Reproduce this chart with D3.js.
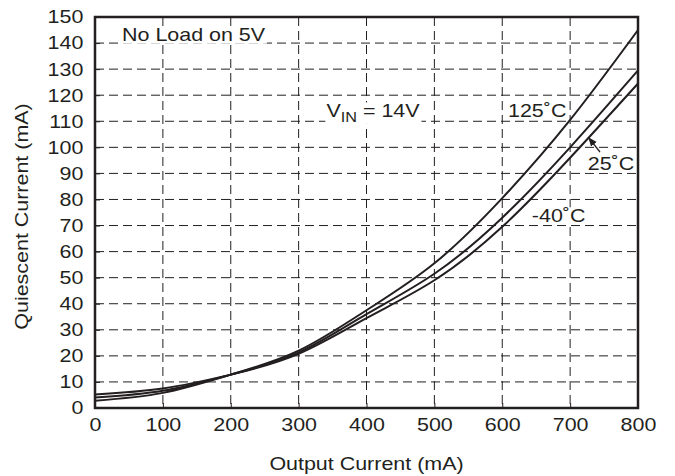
<!DOCTYPE html>
<html>
<head>
<meta charset="utf-8">
<script src="https://cdn.jsdelivr.net/npm/d3@7"></script>
<style>
  body { margin: 0; background: #fff; }
  text { font-family: "Liberation Sans", Arial, sans-serif; fill: #231f20; }
</style>
</head>
<body>
<div id="chart"></div>
<script>
const outputCurrent = [0, 100, 200, 300, 400, 500, 600, 700, 800]
const q125 = [2.8, 5.8, 12.8, 22, 37.5, 55.5, 80.5, 110.5, 145]
const q25 = [4, 6.6, 12.8, 21.3, 36, 51.5, 73, 100, 129.5]
const qMinus40 = [5.2, 7.5, 12.8, 20.8, 34.5, 49, 69.5, 96, 124.5]
const xTicks = [0, 100, 200, 300, 400, 500, 600, 700, 800]
const yTicks = d3.range(0, 151, 10)

const margin = {top: 17, right: 37, bottom: 68, left: 95}
const width = 675 - margin.left - margin.right
const height = 476 - margin.top - margin.bottom
const stretch = 1.16

const x = d3.scaleLinear().domain([0, 800]).range([0, width])
const y = d3.scaleLinear().domain([0, 150]).range([height, 0])

const svg = d3.select('#chart').append('svg')
  .attr('width', 675)
  .attr('height', 476)
const g = svg.append('g')
  .attr('transform', `translate(${margin.left}, ${margin.top})`)

// dashed grid
g.append('g').selectAll('line').data(xTicks.slice(1, -1))
  .enter().append('line')
    .attr('x1', (d) => x(d)).attr('x2', (d) => x(d))
    .attr('y1', 0).attr('y2', height)
    .attr('stroke', '#231f20').attr('stroke-width', 1)
    .attr('stroke-dasharray', '9,5')
g.append('g').selectAll('line').data(yTicks.slice(1, -1))
  .enter().append('line')
    .attr('y1', (d) => y(d)).attr('y2', (d) => y(d))
    .attr('x1', 0).attr('x2', width)
    .attr('stroke', '#231f20').attr('stroke-width', 1)
    .attr('stroke-dasharray', '9,5')

// axes
const xAxis = g.append('g')
  .attr('transform', `translate(0, ${height})`)
  .call(d3.axisBottom(x).tickValues(xTicks).tickSize(-5).tickPadding(10).tickFormat(d3.format('d')))
const yAxis = g.append('g')
  .call(d3.axisLeft(y).tickValues(yTicks).tickSize(-5).tickPadding(10).tickFormat(d3.format('d')))
;[xAxis, yAxis].forEach((a) => {
  a.select('.domain').remove()
  a.selectAll('.tick line').attr('stroke', '#231f20')
  a.selectAll('.tick text')
    .style('font-size', '18.5px')
    .attr('fill', '#231f20')
    .attr('transform', `scale(${stretch}, 1)`)
})

// annotations, white box behind each like the datasheet
const ann = g.append('g').style('font-size', '18.5px')
function label(xv, yv, build) {
  const lg = ann.append('g')
    .attr('transform', `translate(${x(xv)}, ${y(yv)}) scale(${stretch}, 1)`)
  const bg = lg.append('rect').attr('fill', '#fff')
  const t = lg.append('text')
  build(t)
  const b = t.node().getBBox()
  bg.attr('x', b.x - 1).attr('y', b.y + 2).attr('width', b.width + 2).attr('height', b.height - 3)
}
label(39.8, 140.8, (t) => t.text('No Load on 5V'))
label(341, 111.6, (t) => {
  t.append('tspan').text('V')
  t.append('tspan').attr('dy', 5).style('font-size', '14px').text('IN')
  t.append('tspan').attr('dy', -5).text(' = 14V')
})
label(608.5, 111.6, (t) => t.text('125˚C'))
label(726, 91.3, (t) => t.text('25˚C'))
label(643.6, 71.4, (t) => t.text('-40˚C'))

// frame
g.append('rect')
  .attr('width', width).attr('height', height)
  .attr('fill', 'none').attr('stroke', '#231f20').attr('stroke-width', 2.5)

// curves
const line = d3.line()
  .x((d, i) => x(outputCurrent[i]))
  .y((d) => y(d))
  .curve(d3.curveNatural)
;[q125, q25, qMinus40].forEach((s) => {
  g.append('path').datum(s)
    .attr('d', line)
    .attr('fill', 'none')
    .attr('stroke', '#231f20')
    .attr('stroke-width', 2)
})

// arrow to 25C curve
svg.append('defs').append('marker')
  .attr('id', 'arr').attr('viewBox', '0 0 10 10')
  .attr('refX', 9).attr('refY', 5)
  .attr('markerWidth', 7).attr('markerHeight', 7)
  .attr('orient', 'auto')
  .append('path').attr('d', 'M0,1 L10,5 L0,9 Z').attr('fill', '#231f20')
g.append('line')
  .attr('x1', x(744)).attr('y1', y(98.2))
  .attr('x2', x(727.5)).attr('y2', y(103.6))
  .attr('stroke', '#231f20').attr('stroke-width', 1.3)
  .attr('marker-end', 'url(#arr)')

// axis titles
svg.append('text')
  .attr('transform', `translate(${margin.left + width / 2}, 470) scale(${stretch}, 1)`)
  .attr('text-anchor', 'middle').style('font-size', '18.5px')
  .text('Output Current (mA)')
svg.append('text')
  .attr('transform', `translate(28, ${margin.top + height / 2 + 4}) rotate(-90) scale(${stretch}, 1)`)
  .attr('text-anchor', 'middle').style('font-size', '18.5px')
  .text('Quiescent Current (mA)')
</script>
</body>
</html>
